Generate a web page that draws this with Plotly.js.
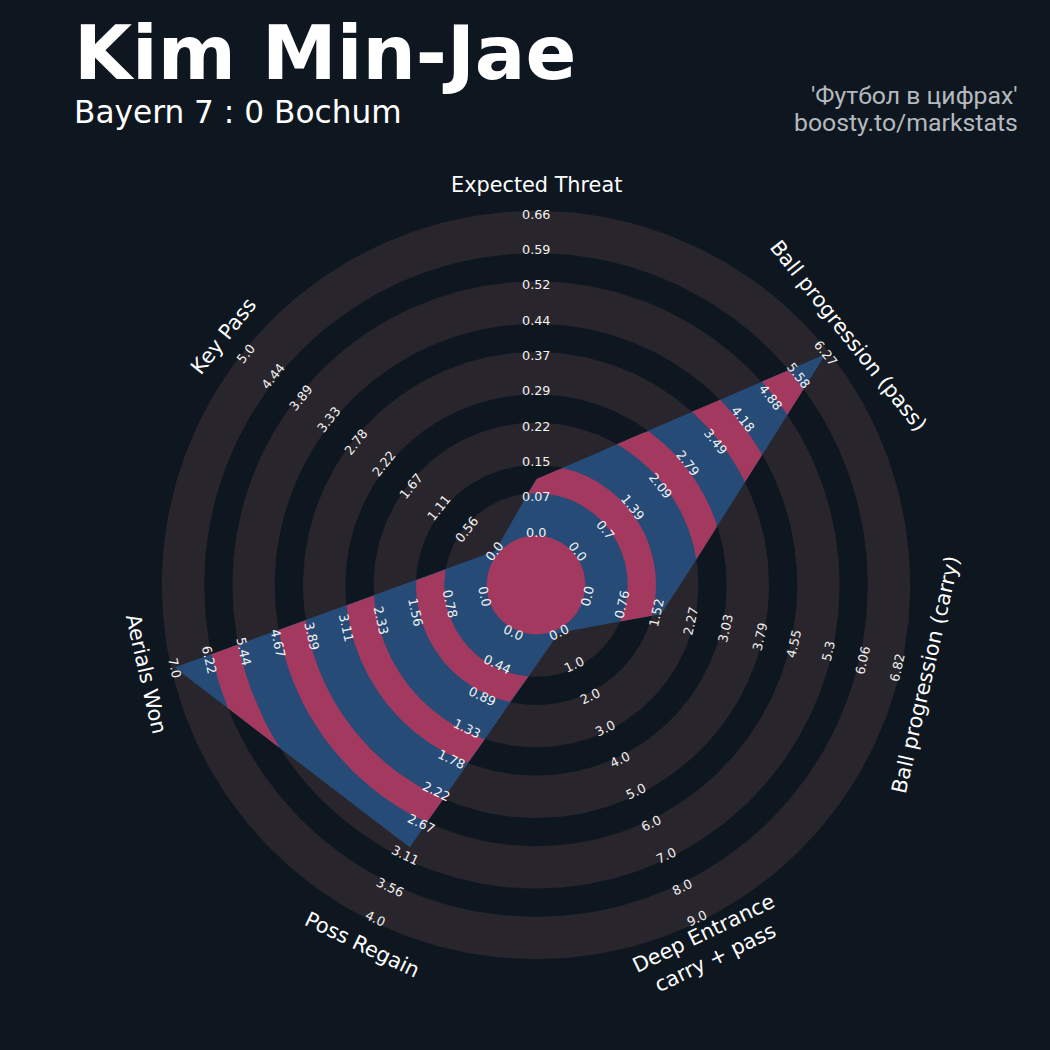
<!DOCTYPE html>
<html><head><meta charset="utf-8">
<script src="https://cdn.plot.ly/plotly-3.0.1.min.js"></script>
<style>html,body{margin:0;padding:0;background:#0e1720;}</style>
</head><body><div id="chart" style="width:1050px;height:1050px;"></div>
<script>
// ---------------- DATA ----------------
const params = ['Expected Threat','Ball progression (pass)','Ball progression (carry)','Deep Entrance<br>carry + pass','Poss Regain','Aerials Won','Key Pass'];
const minRange = [0, 0, 0, 0, 0, 0, 0];
const maxRange = [0.663, 6.274, 6.82, 9.0, 4.0, 7.0, 5.0];
const values   = [0.11, 6.274, 1.64, 0, 3.0, 7.0, 0];
const rangeLabels = [
  ['0.0','0.07','0.15','0.22','0.29','0.37','0.44','0.52','0.59','0.66'],
  ['0.0','0.7','1.39','2.09','2.79','3.49','4.18','4.88','5.58','6.27'],
  ['0.0','0.76','1.52','2.27','3.03','3.79','4.55','5.3','6.06','6.82'],
  ['0.0','1.0','2.0','3.0','4.0','5.0','6.0','7.0','8.0','9.0'],
  ['0.0','0.44','0.89','1.33','1.78','2.22','2.67','3.11','3.56','4.0'],
  ['0.0','0.78','1.56','2.33','3.11','3.89','4.67','5.44','6.22','7.0'],
  ['0.0','0.56','1.11','1.67','2.22','2.78','3.33','3.89','4.44','5.0']
];
const titleText = 'Kim Min-Jae';
const subtitleText = 'Bayern 7 : 0 Bochum';
const creditLines = ["'Футбол в цифрах'", 'boosty.to/markstats'];

// ---------------- STYLE / GEOMETRY ----------------
const W = 1050, H = 1050, CX = 536, CY = 585, U = 35.3;
const BG = '#0e1720', RING = '#28252c', PINK = '#a3395e', BLUE = '#264b77';
const R0 = 1.5, NLAB = 10, PAD = 0.1, LABEL_R = 11.33;
const n = params.length;
const rad = d => d * Math.PI / 180;
const angles = params.map((_, i) => 90 - i * 360 / n);
const vr = values.map((v, i) => R0 + (v - minRange[i]) / (maxRange[i] - minRange[i]) * (NLAB - 1));
const verts = vr.map((r, i) => [r * Math.cos(rad(angles[i])), r * Math.sin(rad(angles[i]))]);

// ring boundaries (gray rings outside the polygon; blue inside it)
const gray = [];
for (let k = 0; k < 5; k++) gray.push([R0 + 2 * k - PAD, R0 + 2 * k + 1 + PAD]);
// gaps between gray rings (dark outside, pink inside the polygon), incl. centre
const gaps = [[0, gray[0][0]]];
for (let k = 0; k < 4; k++) gaps.push([gray[k][1], gray[k + 1][0]]);

const traces = [];
const fillTrace = (x, y, c) => traces.push({type: 'scatter', mode: 'lines', x, y, fill: 'toself', fillcolor: c,
  line: {width: 0, color: c}, hoverinfo: 'skip'});

// background gray annuli
gray.forEach(([ri, ro]) => {
  const x = [], y = [];
  const N = 360;
  for (let j = 0; j <= N; j++) { const t = rad(j * 360 / N); x.push(ro * Math.cos(t)); y.push(ro * Math.sin(t)); }
  for (let j = N; j >= 0; j--) { const t = rad(j * 360 / N); x.push(ri * Math.cos(t)); y.push(ri * Math.sin(t)); }
  fillTrace(x, y, RING);
});

// polygon boundary in polar form: [cos, sin, rho]
const bnd = [];
(function () {
  const N = 1500;
  for (let i = 0; i < n; i++) {
    const P = verts[i], Q = verts[(i + 1) % n];
    const e = [Q[0] - P[0], Q[1] - P[1]];
    const a0 = angles[i], a1 = angles[i] - 360 / n;
    for (let j = 0; j < N; j++) {
      const th = rad(a0 + (a1 - a0) * j / N);
      const d = [Math.cos(th), Math.sin(th)];
      const t = (P[0] * e[1] - P[1] * e[0]) / (d[0] * e[1] - d[1] * e[0]);
      bnd.push([d[0], d[1], t]);
    }
  }
})();

// base polygon (blue)
{
  const x = bnd.map(p => p[0] * p[2]), y = bnd.map(p => p[1] * p[2]);
  x.push(x[0]); y.push(y[0]);
  fillTrace(x, y, BLUE);
}

// pink bands = gap annulus ∩ polygon, split into contiguous angular runs
gaps.forEach(([ri, ro]) => {
  const M = bnd.length;
  if (ri === 0) {
    const x = [], y = [];
    bnd.forEach(([dx, dy, t]) => { const r = Math.min(t, ro); x.push(dx * r); y.push(dy * r); });
    x.push(x[0]); y.push(y[0]);
    fillTrace(x, y, PINK);
    return;
  }
  let start = bnd.findIndex(p => p[2] <= ri);
  if (start < 0) start = 0;
  let run = [];
  const flush = () => {
    if (run.length > 1) {
      const x = [], y = [];
      run.forEach(([dx, dy, t]) => { const r = Math.min(t, ro); x.push(dx * r); y.push(dy * r); });
      for (let j = run.length - 1; j >= 0; j--) { x.push(run[j][0] * ri); y.push(run[j][1] * ri); }
      x.push(x[0]); y.push(y[0]);
      fillTrace(x, y, PINK);
    }
    run = [];
  };
  for (let k = 0; k <= M; k++) {
    const p = bnd[(start + k) % M];
    if (p[2] > ri) run.push(p); else flush();
  }
  flush();
});

// annotations
const ann = [];
function tAngle(th) {
  let a = 90 - th;
  while (a > 180) a -= 360;
  while (a <= -180) a += 360;
  if (a > 90) a -= 180;
  if (a < -90) a += 180;
  return a;
}
for (let i = 0; i < n; i++) {
  const th = angles[i], ta = tAngle(th);
  for (let k = 0; k < NLAB; k++) {
    const r = R0 + k;
    ann.push({xref: 'x', yref: 'y', x: r * Math.cos(rad(th)), y: r * Math.sin(rad(th)), text: rangeLabels[i][k],
      showarrow: false, textangle: ta, xanchor: 'center', yanchor: 'middle',
      font: {family: 'DejaVu Sans', size: 12.8, color: '#f2f2f2'}});
  }
  ann.push({xref: 'x', yref: 'y', x: LABEL_R * Math.cos(rad(th)), y: LABEL_R * Math.sin(rad(th)), text: params[i],
    showarrow: false, textangle: ta, xanchor: 'center', yanchor: 'middle',
    font: {family: 'DejaVu Sans', size: 20.8, color: '#ffffff'}});
}
ann.push({xref: 'paper', yref: 'paper', x: 72 / W, y: 1 - 53 / H, xanchor: 'left', yanchor: 'middle', showarrow: false,
  text: '<b>' + titleText + '</b>', font: {family: 'DejaVu Sans', size: 75, color: '#ffffff'}});
ann.push({xref: 'paper', yref: 'paper', x: 72 / W, y: 1 - 112 / H, xanchor: 'left', yanchor: 'middle', showarrow: false,
  text: subtitleText, font: {family: 'DejaVu Sans', size: 31.2, color: '#ffffff'}});
ann.push({xref: 'paper', yref: 'paper', x: 1020 / W, y: 1 - 96 / H, xanchor: 'right', yanchor: 'middle', showarrow: false,
  text: creditLines[0], font: {family: 'Roboto', size: 24.8, color: '#b5b9be'}});
ann.push({xref: 'paper', yref: 'paper', x: 1020 / W, y: 1 - 123 / H, xanchor: 'right', yanchor: 'middle', showarrow: false,
  text: creditLines[1], font: {family: 'Roboto', size: 24.8, color: '#b5b9be'}});

const layout = {
  width: W, height: H, margin: {l: 0, r: 0, t: 0, b: 0},
  paper_bgcolor: BG, plot_bgcolor: BG, showlegend: false, hovermode: false,
  xaxis: {range: [-CX / U, (W - CX) / U], visible: false, fixedrange: true},
  yaxis: {range: [-(H - CY) / U, CY / U], visible: false, fixedrange: true},
  annotations: ann
};
Plotly.newPlot('chart', traces, layout, {staticPlot: true, displayModeBar: false});
</script>
</body></html>
